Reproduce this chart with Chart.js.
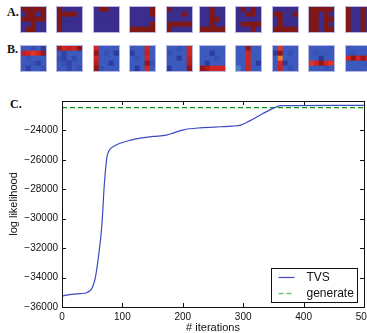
<!DOCTYPE html>
<html>
<head>
<meta charset="utf-8">
<script src="https://cdn.jsdelivr.net/npm/chart.js@4.4.1/dist/chart.umd.min.js"></script>
<style>
  html, body { margin: 0; padding: 0; background: #fff; }
  body { position: relative; width: 367px; height: 333px; overflow: hidden; }
  .panel { position: absolute; font: bold 12px "Liberation Serif", "DejaVu Serif", serif; line-height: 12px; color: #111; }
  .tile { position: absolute; outline: 1px solid rgba(165,165,215,0.8); }
  #charts1 { position: absolute; left: 0; top: 88px; }
</style>
</head>
<body>
<div class="panel" style="left:7px; top:6px;">A.</div>
<div class="panel" style="left:7px; top:43px;">B.</div>
<div class="panel" style="left:10px; top:98px;">C.</div>
<div id="tiles"></div>
<canvas id="charts1" width="400" height="247"></canvas>
<script>
// samples (0 = off, 1 = on), rows top to bottom
const samplesA = [
  [[1,1,1,1,1],[0,1,1,0,1],[1,1,1,1,1],[0,0,1,0,0],[0,1,1,0,0]],
  [[1,0,0,0,0],[1,1,1,1,0],[1,0,0,0,0],[1,0,0,0,0],[1,0,0,0,0]],
  [[0,1,1,0,0],[0,0,0,0,0],[0,0,0,0,0],[0,0,0,0,0],[0,0,0,0,0]],
  [[0,0,0,0,1],[0,0,0,0,1],[0,0,0,0,0],[0,0,0,0,1],[1,1,1,1,1]],
  [[1,0,0,0,0],[0,0,0,1,0],[0,0,0,0,0],[1,1,1,1,1],[1,0,0,0,0]],
  [[0,0,1,0,0],[0,0,1,0,0],[0,0,1,1,0],[0,0,1,0,0],[1,1,1,1,1]],
  [[0,1,0,1,0],[0,0,1,1,0],[0,0,0,0,0],[0,1,1,1,1],[0,0,0,1,0]],
  [[0,0,0,0,0],[1,1,0,0,1],[0,1,0,0,0],[0,1,0,0,0],[1,1,1,1,1]],
  [[1,1,1,1,1],[1,1,0,1,0],[1,1,0,1,1],[1,1,0,1,0],[1,1,0,1,1]],
  [[1,0,0,1,0],[1,0,0,1,0],[1,0,0,1,0],[1,0,0,1,0],[1,0,0,1,0]]
];

// learned filters (weights scaled 0..1), rows top to bottom
const filtersB = [
  [[.15,.15,.12,.15,.08],[.88,.85,.8,.85,.95],[.15,.12,.15,.15,.15],[.15,.15,.12,.08,.15],[.15,.08,.15,.15,.12]],
  [[.95,.85,.88,.85,.97],[.15,.08,.15,.15,.15],[.12,.08,.15,.1,.15],[.15,.12,.08,.15,.15],[.15,.15,.1,.15,.12]],
  [[.85,.15,.15,.15,.15],[.97,.15,.12,.15,.06],[.85,.15,.15,.15,.15],[.9,.15,.15,.06,.15],[.97,.12,.15,.15,.15]],
  [[.15,.15,.15,.85,.15],[.06,.15,.15,.88,.15],[.15,.12,.15,.85,.15],[.15,.15,.15,.97,.12],[.15,.06,.15,.85,.15]],
  [[.15,.15,.12,.15,.85],[.12,.15,.15,.15,.85],[.15,.15,.06,.15,.88],[.15,.15,.15,.15,.9],[.06,.15,.15,.15,.97]],
  [[.15,.15,.15,.15,.15],[.15,.15,.06,.15,.15],[.15,.15,.15,.12,.15],[.15,.06,.15,.15,.15],[.97,.92,.85,.85,.85]],
  [[.15,.15,.97,.15,.15],[.15,.15,.85,.15,.15],[.15,.15,.85,.15,.15],[.15,.15,.85,.15,.06],[.3,.15,.85,.15,.15]],
  [[.15,.8,.15,.15,.15],[.06,.97,.15,.12,.15],[.15,.7,.15,.15,.15],[.15,.85,.06,.15,.15],[.15,.85,.15,.12,.15]],
  [[.15,.15,.15,.15,.15],[.15,.12,.15,.15,.15],[.15,.15,.06,.15,.15],[.8,.85,.97,.85,.8],[.15,.15,.15,.12,.15]],
  [[.15,.15,.15,.15,.15],[.15,.12,.15,.15,.15],[.85,.97,.85,.95,.85],[.15,.15,.15,.15,.12],[.15,.15,.15,.15,.15]]
];

// training curve
const iterations = [0, 10, 20, 30, 41, 46, 50, 55, 60, 66, 70, 74, 78, 83, 88, 100, 110, 129, 151, 173,
                    184, 201, 229, 262, 282, 297, 310, 332, 354, 362, 380, 500];
const tvsLogLik = [-35260, -35180, -35120, -35090, -35030, -34900, -34700, -34060, -32700, -30440,
                   -27730, -25920, -25360, -25150, -25020, -24820, -24700, -24520, -24410, -24320,
                   -24180, -23960, -23820, -23750, -23710, -23620, -23370, -22870, -22420, -22320,
                   -22310, -22300];
const generateIter = [0, 500];
const generateLogLik = [-22450, -22450];

const xTicks = [0, 100, 200, 300, 400, 500];
const yTicks = [-36000, -34000, -32000, -30000, -28000, -26000, -24000];

// ---- tiles ----
const tileX = [21, 57, 94, 130, 167, 200, 236, 273, 309, 346];

const binaryColor = v => v ? 'rgb(128,24,24)' : 'rgb(58,45,140)';

const cmapStops = [
  [0.00, [35, 40, 130]],
  [0.15, [60, 90, 190]],
  [0.35, [85, 135, 205]],
  [0.70, [240, 125, 40]],
  [0.82, [225, 40, 35]],
  [1.00, [130, 20, 20]]
];
function weightColor(v) {
  for (let i = 1; i < cmapStops.length; i++) {
    const [v1, c1] = cmapStops[i];
    if (v <= v1) {
      const [v0, c0] = cmapStops[i - 1];
      const t = (v - v0) / (v1 - v0);
      const c = c0.map((a, k) => Math.round(a + (c1[k] - a) * t));
      return 'rgb(' + c.join(',') + ')';
    }
  }
  return 'rgb(130,20,20)';
}

function drawTile(x, y, grid, colorFn) {
  const canvas = document.createElement('canvas');
  canvas.width = 25;
  canvas.height = 25;
  canvas.className = 'tile';
  canvas.style.left = x + 'px';
  canvas.style.top = y + 'px';
  document.getElementById('tiles').appendChild(canvas);

  // one stacked dataset per row, bottom row first
  const rows = grid.slice().reverse();
  new Chart(canvas, {
    type: 'bar',
    data: {
      labels: [0, 1, 2, 3, 4],
      datasets: rows.map(row => ({
        data: row.map(() => 1),
        backgroundColor: row.map(colorFn),
        borderWidth: 0,
        barPercentage: 1,
        categoryPercentage: 1
      }))
    },
    options: {
      responsive: false,
      animation: false,
      events: [],
      layout: { padding: 0 },
      plugins: { legend: { display: false }, tooltip: { enabled: false } },
      scales: {
        x: { display: false, stacked: true },
        y: { display: false, stacked: true, min: 0, max: 5 }
      }
    }
  });
}

samplesA.forEach((g, i) => drawTile(tileX[i], 7, g, binaryColor));
filtersB.forEach((g, i) => drawTile(tileX[i], 46, g, weightColor));

// ---- log likelihood curve ----
const fmt = v => (v < 0 ? '\u2212' : '') + Math.abs(v);

// black frame with inward ticks on all four sides
const frameTicks = {
  id: 'frameTicks',
  afterDatasetsDraw(chart) {
    const { ctx, chartArea: a, scales } = chart;
    const len = 4;
    ctx.save();
    ctx.strokeStyle = '#111';
    ctx.lineWidth = 1;
    ctx.beginPath();
    xTicks.forEach(v => {
      const px = Math.round(scales.x.getPixelForValue(v)) + 0.5;
      ctx.moveTo(px, a.bottom); ctx.lineTo(px, a.bottom - len);
      ctx.moveTo(px, a.top); ctx.lineTo(px, a.top + len);
    });
    yTicks.forEach(v => {
      const py = Math.round(scales.y.getPixelForValue(v)) + 0.5;
      ctx.moveTo(a.left, py); ctx.lineTo(a.left + len, py);
      ctx.moveTo(a.right, py); ctx.lineTo(a.right - len, py);
    });
    ctx.stroke();
    ctx.strokeRect(Math.round(a.left) + 0.5, Math.round(a.top) + 0.5,
                   Math.round(a.right - a.left), Math.round(a.bottom - a.top));
    ctx.restore();
  }
};

// boxed legend in the lower right corner of the axes
const boxLegend = {
  id: 'boxLegend',
  afterDraw(chart) {
    const { ctx, chartArea: a } = chart;
    const w = 86, h = 34;
    const x = Math.round(a.right - 7 - w) + 0.5;
    const y = Math.round(a.bottom - 5 - h) + 0.5;
    ctx.save();
    ctx.fillStyle = '#fff';
    ctx.fillRect(x, y, w, h);
    ctx.strokeStyle = '#111';
    ctx.lineWidth = 1;
    ctx.strokeRect(x, y, w, h);
    ctx.font = '12px "Liberation Sans", Arial, sans-serif';
    ctx.textBaseline = 'middle';
    chart.data.datasets.forEach((ds, i) => {
      const ly = Math.round(y + 8.5 + i * 15.5) + 0.5;
      ctx.strokeStyle = ds.legendColor || ds.borderColor;
      ctx.lineWidth = ds.borderWidth;
      ctx.setLineDash(ds.borderDash || []);
      ctx.beginPath();
      ctx.moveTo(x + 7, ly);
      ctx.lineTo(x + 23, ly);
      ctx.stroke();
      ctx.setLineDash([]);
      ctx.fillStyle = '#111';
      ctx.fillText(ds.label, x + 35, ly);
    });
    ctx.restore();
  }
};

const tickFont = { family: '"Liberation Sans", Arial, sans-serif', size: 10 };
const titleFont = { family: '"Liberation Sans", Arial, sans-serif', size: 11 };

new Chart(document.getElementById('charts1').getContext('2d'), {
  type: 'line',
  data: {
    datasets: [{
      label: 'TVS',
      data: iterations.map((it, i) => ({ x: it, y: tvsLogLik[i] })),
      borderColor: '#3c4bc0',
      borderWidth: 1.2,
      pointRadius: 0,
      cubicInterpolationMode: 'monotone',
      fill: false
    }, {
      label: 'generate',
      data: generateIter.map((it, i) => ({ x: it, y: generateLogLik[i] })),
      borderColor: '#119311',
      legendColor: '#6cc46c',
      borderWidth: 1.3,
      borderDash: [5, 3],
      pointRadius: 0,
      fill: false
    }]
  },
  options: {
    responsive: false,
    animation: false,
    events: [],
    layout: { padding: { left: 0, top: 13, right: 36, bottom: 0 } },
    plugins: { legend: { display: false }, tooltip: { enabled: false } },
    scales: {
      x: {
        type: 'linear',
        min: 0,
        max: 500,
        afterBuildTicks: s => { s.ticks = xTicks.map(v => ({ value: v })); },
        afterFit: s => { s.height = 28; },
        grid: { display: false, drawTicks: false },
        border: { display: false },
        ticks: { padding: 4, color: '#111', font: tickFont, maxRotation: 0, autoSkip: false },
        title: { display: true, text: '# iterations', color: '#111', font: titleFont, padding: 0 }
      },
      y: {
        min: -36000,
        max: -22000,
        afterBuildTicks: s => { s.ticks = yTicks.map(v => ({ value: v })); },
        afterFit: s => { s.width = 62; },
        grid: { display: false, drawTicks: false },
        border: { display: false },
        ticks: { padding: 4, color: '#111', font: tickFont, callback: v => fmt(v) },
        title: { display: true, text: 'log likelihood', color: '#111', font: titleFont, padding: { top: 7, bottom: 0 } }
      }
    }
  },
  plugins: [frameTicks, boxLegend]
});
</script>
</body>
</html>
